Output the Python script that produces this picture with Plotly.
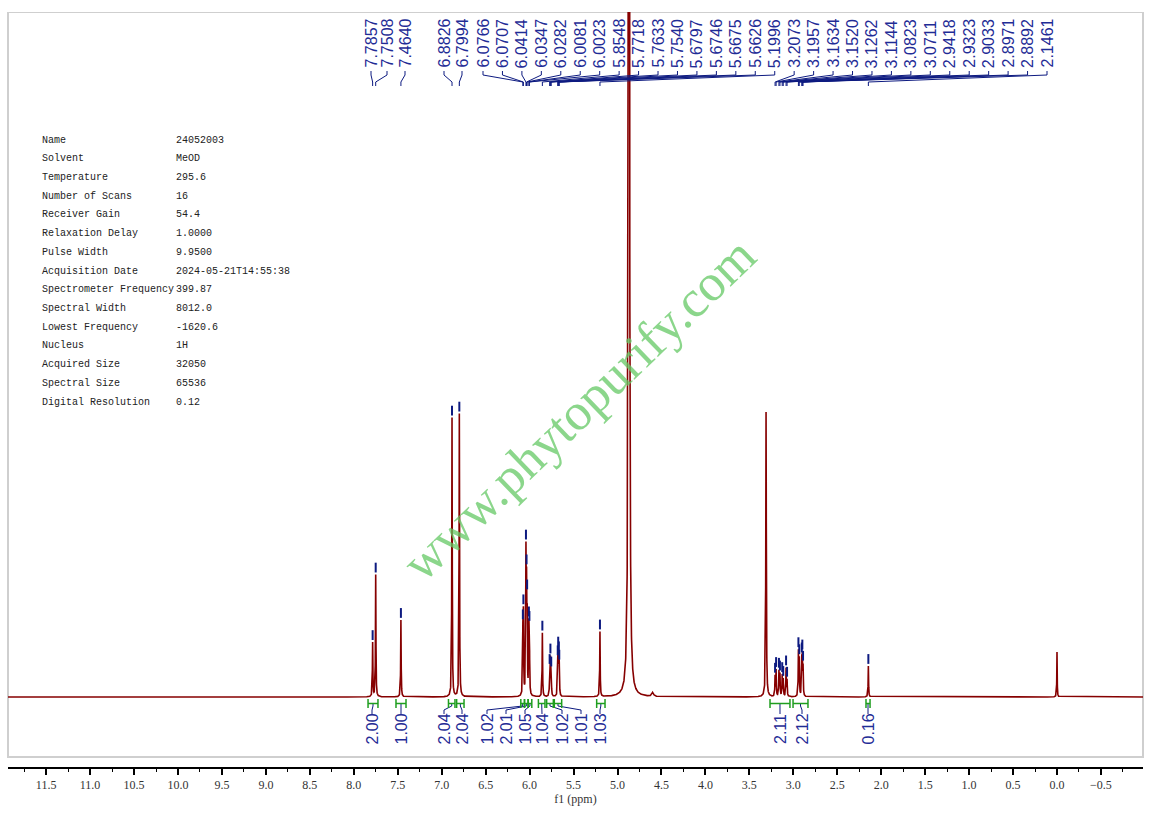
import numpy as np
import plotly.graph_objects as go

# Labelled peaks: shift (ppm) and height (px above the baseline)
peak_ppm = [7.7857, 7.7508, 7.4640, 6.8826, 6.7994,
            6.0766, 6.0707, 6.0414, 6.0347, 6.0282, 6.0081, 6.0023,
            5.8548, 5.7718, 5.7633, 5.7540, 5.6797, 5.6746, 5.6675, 5.6626,
            5.1996,
            3.2073, 3.1957, 3.1634, 3.1520, 3.1262, 3.1144, 3.0823, 3.0711,
            2.9418, 2.9323, 2.9033, 2.8971, 2.8892,
            2.1461]
peak_height = [54, 122, 77, 279, 283,
               58, 76, 134, 92, 80, 62, 58,
               64, 26, 36, 24, 28, 35, 30, 24,
               65,
               20, 26, 25, 22, 21, 17, 28, 16,
               44, 36, 34, 35, 28,
               31]

# Unlabelled peaks: HDO, small bump, CD2HOD, TMS
other_ppm = [4.870, 4.600, 3.310, 0.000]
other_height = [2600, 4, 285, 45]
other_hwhm = [0.0045, 0.012, 0.0035, 0.0025]

# Integrals: region (ppm) and value
int_from = [7.838, 7.520, 6.923, 6.830, 6.100, 6.058, 6.017, 5.900, 5.806, 5.719, 5.237, 3.265, 3.003, 2.173]
int_to = [7.725, 7.406, 6.849, 6.746, 6.058, 6.017, 5.975, 5.825, 5.730, 5.635, 5.142, 3.038, 2.833, 2.127]
int_value = ["2.00", "1.00", "2.04", "2.04", "1.02", "2.01", "1.05", "1.04", "1.02", "1.01", "1.03", "2.11", "2.12", "0.16"]

# Acquisition parameters
param_names = ["Name", "Solvent", "Temperature", "Number of Scans", "Receiver Gain",
               "Relaxation Delay", "Pulse Width", "Acquisition Date", "Spectrometer Frequency",
               "Spectral Width", "Lowest Frequency", "Nucleus", "Acquired Size",
               "Spectral Size", "Digital Resolution"]
param_values = ["24052003", "MeOD", "295.6", "16", "54.4", "1.0000", "9.9500",
                "2024-05-21T14:55:38", "399.87", "8012.0", "-1620.6", "1H", "32050",
                "65536", "0.12"]

# ---- layout geometry (pixels of the 1151x814 page) ----
W, H = 1151, 814
PLOT_L, PLOT_R, PLOT_T, PLOT_B = 8, 1143, 12, 767
BASE_PX = 697
ZERO_PX = 1057
PX_PER_PPM = 87.9


def ppm_at(px):
    return (ZERO_PX - px) / PX_PER_PPM


def y_at(py):
    return BASE_PX - py


x_range = [ppm_at(PLOT_L), ppm_at(PLOT_R)]
y_range = [y_at(PLOT_B), y_at(PLOT_T)]

BLUE = "#1f2c96"
NAVY = "#0d1a80"
GREEN = "#1f9e1f"
RED = "#860000"

# ---- spectrum: sum of Lorentzian lines built from the peak list ----
HWHM = 0.003
grid = np.arange(x_range[1], x_range[0], 0.0008)
grid = np.sort(np.concatenate([grid, peak_ppm, other_ppm]))


def spectrum(x):
    x = np.asarray(x, dtype=float)
    y = np.zeros_like(x)
    for p, h in zip(peak_ppm, peak_height):
        y += h * HWHM**2 / ((x - p) ** 2 + HWHM**2)
    for p, h, g in zip(other_ppm, other_height, other_hwhm):
        y += h * g**2 / ((x - p) ** 2 + g**2)
    return y


fig = go.Figure()
fig.add_trace(go.Scatter(x=grid, y=spectrum(grid), mode="lines",
                         line=dict(color=RED, width=1.6), hoverinfo="skip"))

# peak-pick markers
fig.add_trace(go.Scatter(x=peak_ppm, y=spectrum(peak_ppm) + 7, mode="markers",
                         marker=dict(symbol="line-ns", size=7, line=dict(color=NAVY, width=2)),
                         hoverinfo="skip"))

# top label positions: first five near their peaks, the rest spread evenly
label_px = [371, 387, 405, 444, 462] + list(np.linspace(483, 1047, len(peak_ppm) - 5))
cx, cy = [], []
for p, lx in zip(peak_ppm, label_px):
    lp = ppm_at(lx)
    cx += [lp, lp, p, p, None]
    cy += [y_at(71), y_at(75), y_at(82), y_at(86), None]
    fig.add_annotation(x=lp, y=y_at(70), text=f"{p:.4f}", textangle=-90, showarrow=False,
                       xanchor="center", yanchor="bottom",
                       font=dict(family="Liberation Sans, Arial", size=16, color=BLUE))
fig.add_trace(go.Scatter(x=cx, y=cy, mode="lines", line=dict(color=NAVY, width=1),
                         hoverinfo="skip"))

# integrals
int_label_px = [372, 401, 444, 462, 487, 506, 525, 542, 562, 581, 600, 780, 802, 868]
gx, gy, bx, by = [], [], [], []
for a, b, v, lx in zip(int_from, int_to, int_value, int_label_px):
    gx += [a, a, None, a, b, None, b, b, None]
    gy += [y_at(699), y_at(708), None, y_at(703.5), y_at(703.5), None, y_at(699), y_at(708), None]
    c = (a + b) / 2
    lp = ppm_at(lx)
    bx += [c, c, lp, lp, None]
    by += [y_at(704), y_at(706), y_at(710), y_at(714), None]
    fig.add_annotation(x=lp, y=y_at(712), text=v, textangle=-90, showarrow=False,
                       xanchor="center", yanchor="top",
                       font=dict(family="Liberation Sans, Arial", size=16, color=BLUE))
fig.add_trace(go.Scatter(x=bx, y=by, mode="lines", line=dict(color=NAVY, width=1),
                         hoverinfo="skip"))
fig.add_trace(go.Scatter(x=gx, y=gy, mode="lines", line=dict(color=GREEN, width=1.5),
                         hoverinfo="skip"))

# parameter table
for i, (n, v) in enumerate(zip(param_names, param_values)):
    ry = y_at(140 + i * 18.72)
    fig.add_annotation(x=ppm_at(40), y=ry, text=n, showarrow=False, xanchor="left",
                       yanchor="middle", font=dict(family="Liberation Mono", size=10, color="#222"))
    fig.add_annotation(x=ppm_at(174), y=ry, text=v, showarrow=False, xanchor="left",
                       yanchor="middle", font=dict(family="Liberation Mono", size=10, color="#222"))

# watermark
fig.add_annotation(x=ppm_at(578), y=y_at(409), text="www.phytopurify.com", textangle=-44,
                   showarrow=False, font=dict(family="Liberation Serif", size=52,
                                              color="rgba(100,200,100,0.75)"))

# frame
fig.add_shape(type="rect", xref="paper", x0=0, x1=1, yref="y", y0=y_at(757), y1=y_at(12),
              line=dict(color="#cfcfcf", width=2), layer="below")

fig.update_layout(
    width=W, height=H,
    margin=dict(l=PLOT_L, r=W - PLOT_R, t=PLOT_T, b=H - PLOT_B),
    plot_bgcolor="white", paper_bgcolor="white",
    showlegend=False,
    xaxis=dict(range=x_range, showgrid=False, zeroline=False,
               showline=True, linecolor="black", linewidth=1.5,
               ticks="outside", ticklen=6, tickwidth=1.5, tickcolor="black",
               tick0=0, dtick=0.5, tickformat=".1f",
               minor=dict(ticks="outside", ticklen=3, tickwidth=1.2, tickcolor="black",
                          dtick=0.25, showgrid=False),
               tickfont=dict(family="Liberation Serif", size=12, color="#333"),
               title=dict(text="f1 (ppm)", standoff=0,
                          font=dict(family="Liberation Serif", size=12, color="#333"))),
    yaxis=dict(range=y_range, visible=False),
)

fig.write_html("out.html", config={"displayModeBar": False},
               post_script="document.body.style.margin='0';")
